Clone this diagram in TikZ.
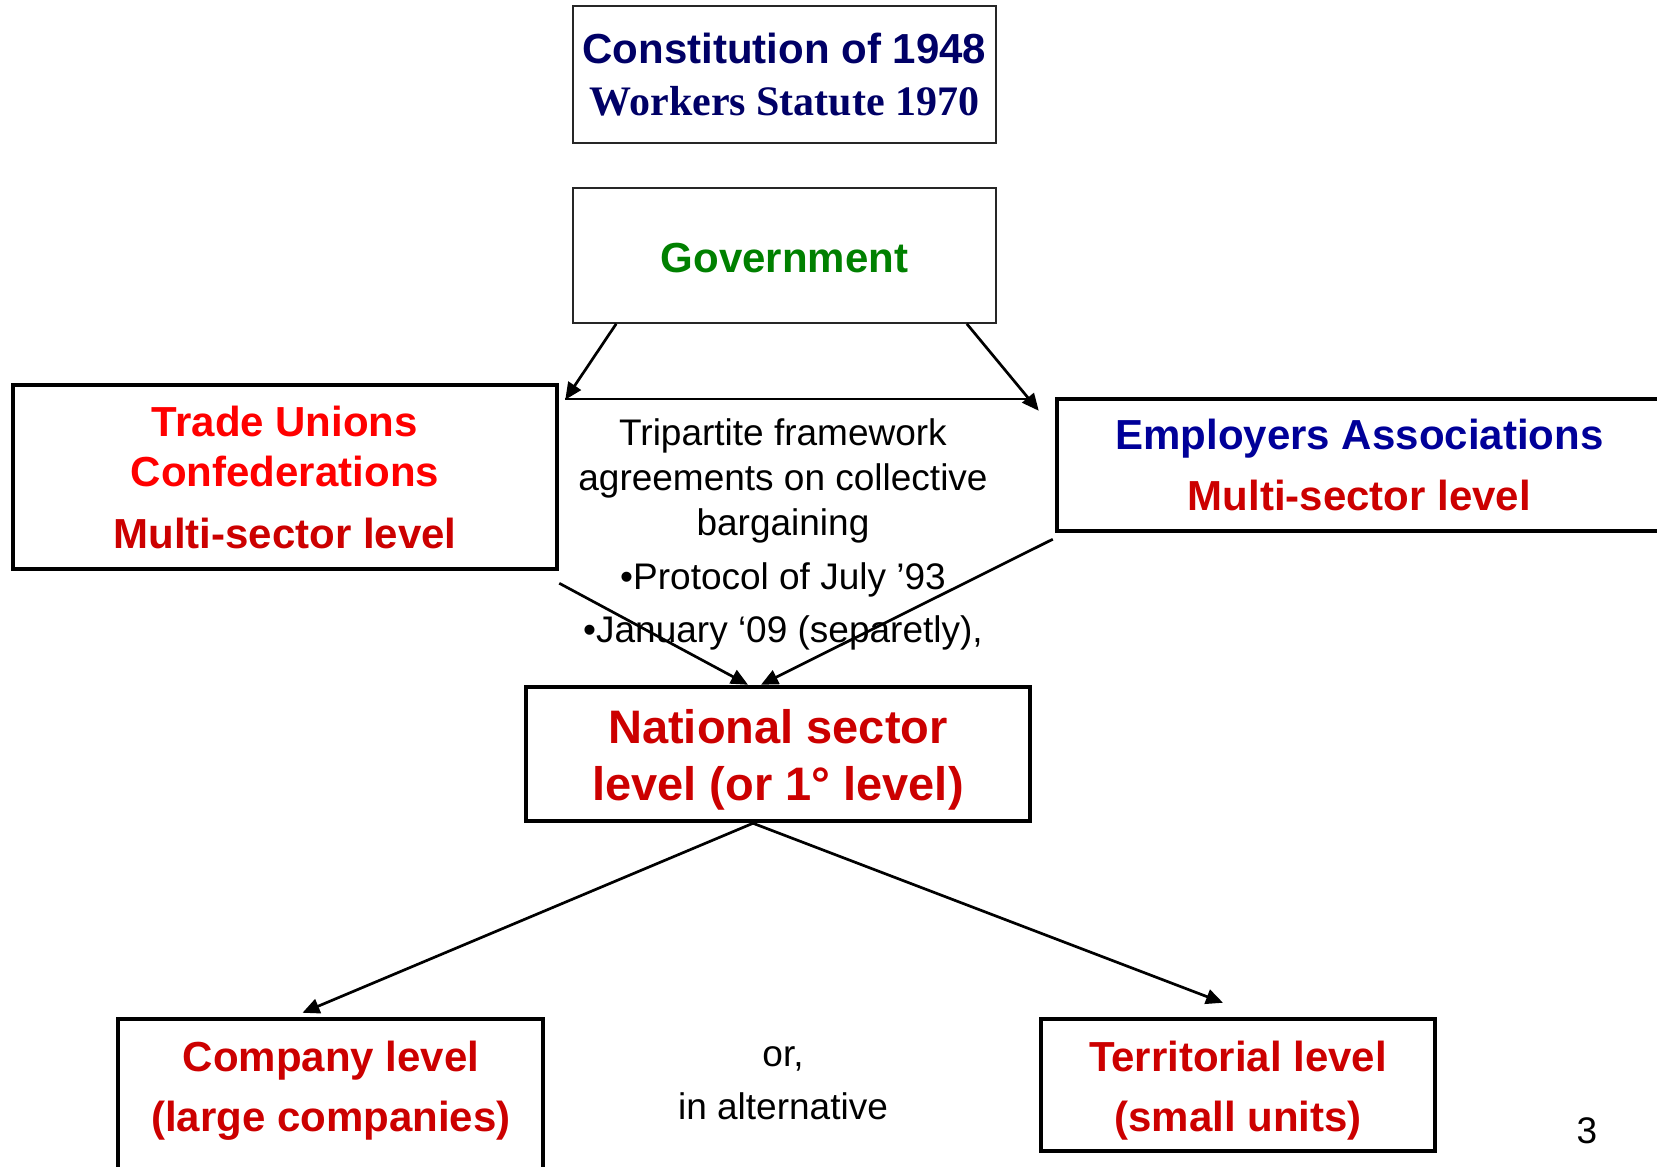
\documentclass[tikz,border=0pt]{standalone}
\usepackage{fontspec}
\setmainfont{Liberation Sans}
\newfontfamily\timesfont{Liberation Serif}
\usetikzlibrary{arrows.meta,calc}

\definecolor{navy}{HTML}{000066}
\definecolor{empblue}{HTML}{000099}
\definecolor{brightred}{HTML}{FF0000}
\definecolor{darkred}{HTML}{CC0000}
\definecolor{govgreen}{HTML}{008000}

\begin{document}
\begin{tikzpicture}[x=1pt,y=-1pt,
  thinbox/.style={draw=black!85, line width=1.6pt, inner sep=0pt, align=center},
  thickbox/.style={draw=black, line width=4.5pt, inner sep=0pt, align=center},
  head/.style={font=\fontsize{42}{50}\selectfont\bfseries},
  bighead/.style={font=\fontsize{47}{57}\selectfont\bfseries},
  plain/.style={font=\fontsize{37}{45}\selectfont, align=center},
  link/.style={line width=2.7pt, -{Triangle[length=17pt,width=15pt]}},
]
\useasboundingbox (0,0) rectangle (1657,1167);

% legal sources and government
\node[thinbox, minimum width=423pt, minimum height=137pt,
      font=\fontsize{42}{52}\selectfont\bfseries, text=navy] (cons) at (784.5,74.5)
  {Constitution of 1948\\{\timesfont Workers Statute 1970}};
\node[thinbox, head, text=govgreen, minimum width=423pt, minimum height=135pt,
      text height=35pt] (gov) at (784.5,255.5) {Government};

% social partners
\node[thickbox, head, minimum width=544pt, minimum height=184pt] (tu) at (285,477)
  {\textcolor{brightred}{Trade Unions}\\\textcolor{brightred}{Confederations}\\[12pt]\textcolor{darkred}{Multi-sector level}};
\node[thickbox, head, minimum width=605pt, minimum height=132pt] (emp) at (1359.5,465)
  {\textcolor{empblue}{Employers Associations}\\[11pt]\textcolor{darkred}{Multi-sector level}};

% tripartite agreements
\node[plain] (tri) at (783,534)
  {Tripartite framework\\agreements on collective\\bargaining\\[9pt]•Protocol of July ’93\\[8pt]•January ‘09 (separetly),};

% bargaining levels
\node[thickbox, minimum width=504pt, minimum height=134pt] (nat) at (778,754) {};
\node[bighead, text=darkred, align=center] (nattext) at (778,760)
  {National sector\\level (or 1° level)};
\node[thickbox, minimum width=425pt, minimum height=170pt] (comp) at (330.5,1104) {};
\node[head, text=darkred, align=center] (comptext) at (331,1091)
  {Company level\\[10pt](large companies)};
\node[thickbox, minimum width=394pt, minimum height=132pt] (terr) at (1238,1085) {};
\node[head, text=darkred, align=center] (terrtext) at (1238,1091)
  {Territorial level\\[10pt](small units)};

\node[plain, anchor=base] (orA) at (783,1066) {or,};
\node[plain, anchor=base] (orB) at (783,1119) {in alternative};
\node[plain] (page) at (1587,1131) {3};

% connectors
\coordinate (topL) at (565,399);
\coordinate (topR) at (1030,399);
\draw[line width=2pt] (topL) -- (topR);
\draw[link] ($(gov.south west)+(44,0)$) -- ($(tu.north east)+(6,17)$);
\draw[link] ($(gov.south east)+(-30,0)$) -- ($(emp.north west)+(-16,14)$);
\draw[link] ($(tu.south east)+(0,12)$) -- ($(nat.north)+(-30,0)$);
\draw[link] ($(emp.south west)+(-2,6)$) -- ($(nat.north)+(-17,0)$);
\draw[link] ($(nat.south)+(-25,0)$) -- ($(comp.north)+(-28,-4)$);
\draw[link] ($(nat.south)+(-25,0)$) -- ($(terr.north)+(-15,-14)$);
\end{tikzpicture}
\end{document}
